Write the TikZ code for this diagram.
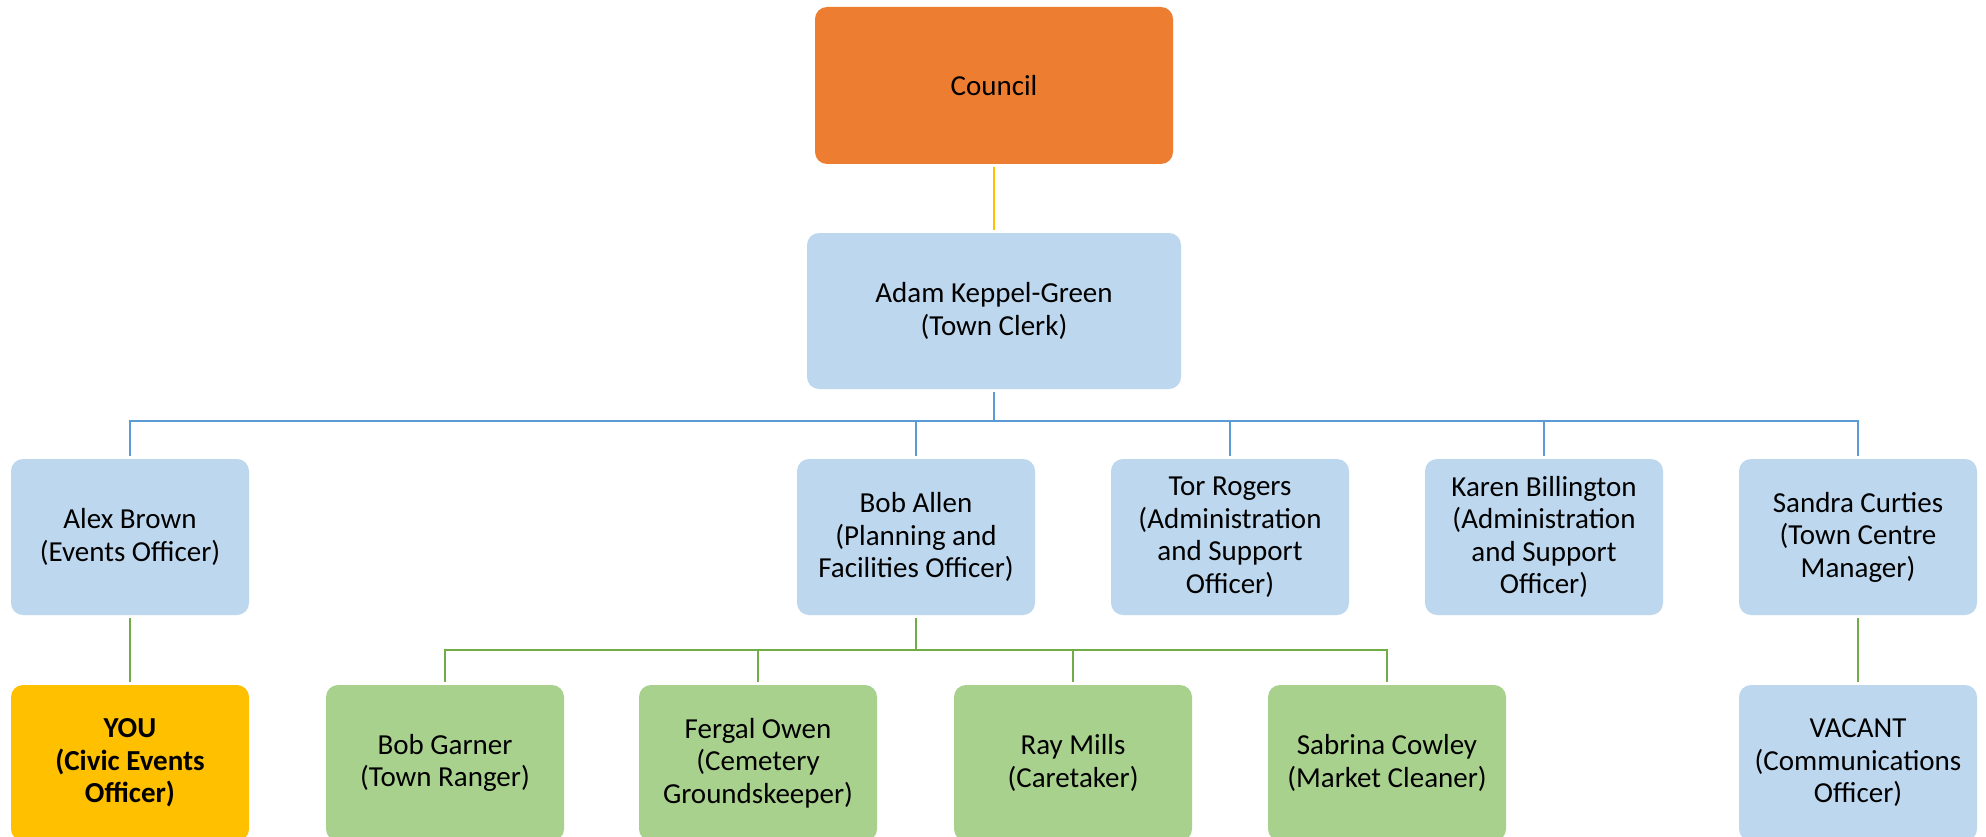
\documentclass[tikz,border=0pt]{standalone}
\usepackage{fontspec}
\setmainfont{Carlito}
\definecolor{corange}{HTML}{ED7D31}
\definecolor{cblue}{HTML}{BDD7EE}
\definecolor{cgreen}{HTML}{A9D18E}
\definecolor{cyou}{HTML}{FFC000}
\definecolor{lblue}{HTML}{5B9BD5}
\definecolor{lgreen}{HTML}{70AD47}
\definecolor{lyellow}{HTML}{FFC000}
\tikzset{
  box/.style={rectangle, rounded corners=12pt, minimum width=238pt, minimum height=156pt,
    inner sep=0pt, align=center, font=\fontsize{29}{32.5}\selectfont, text=black},
  bluebox/.style={box, fill=cblue},
  greenbox/.style={box, fill=cgreen},
  youbox/.style={box, fill=cyou, font=\fontsize{29}{32.5}\selectfont\bfseries},
  conn/.style={line width=2.2pt, shorten <=3pt, shorten >=3pt},
  bline/.style={conn, draw=lblue},
  gline/.style={conn, draw=lgreen},
  yline/.style={conn, draw=lyellow},
}
\begin{document}
\begin{tikzpicture}[x=1pt,y=-1pt]
\useasboundingbox[fill=white] (0,0) rectangle (1986,837);
% top
\node[box, fill=corange, minimum width=358pt, minimum height=157pt] (council) at (994,85.5) {Council};
\node[bluebox, minimum width=374pt, minimum height=156pt] (adam) at (994,311) {Adam Keppel-Green\\(Town Clerk)};
% row 2
\node[bluebox] (alex) at (130,537) {Alex Brown\\(Events Officer)};
\node[bluebox] (boba) at (916,537) {Bob Allen\\(Planning and\\Facilities Officer)};
\node[bluebox] (tor) at (1230,537) {Tor Rogers\\(Administration\\and Support\\Officer)};
\node[bluebox] (karen) at (1544,537) {Karen Billington\\(Administration\\and Support\\Officer)};
\node[bluebox] (sandra) at (1858,537) {Sandra Curties\\(Town Centre\\Manager)};
% row 3
\node[youbox] (you) at (130,763) {YOU\\(Civic Events\\Officer)};
\node[greenbox] (garner) at (445,763) {Bob Garner\\(Town Ranger)};
\node[greenbox] (fergal) at (758,763) {Fergal Owen\\(Cemetery\\Groundskeeper)};
\node[greenbox] (ray) at (1073,763) {Ray Mills\\(Caretaker)};
\node[greenbox] (sabrina) at (1387,763) {Sabrina Cowley\\(Market Cleaner)};
\node[bluebox] (vacant) at (1858,763) {VACANT\\(Communications\\Officer)};
% connectors
\coordinate (bus) at (994,421);
\coordinate (gbus) at (916,650);
\draw[yline] (council.south) -- (adam.north);
\foreach \n in {alex,boba,tor,karen,sandra}
  \draw[bline] (adam.south) -- (adam.south |- bus) -| (\n.north);
\foreach \n in {garner,fergal,ray,sabrina}
  \draw[gline] (boba.south) -- (boba.south |- gbus) -| (\n.north);
\draw[gline] (alex.south) -- (you.north);
\draw[gline] (sandra.south) -- (vacant.north);
\end{tikzpicture}
\end{document}
